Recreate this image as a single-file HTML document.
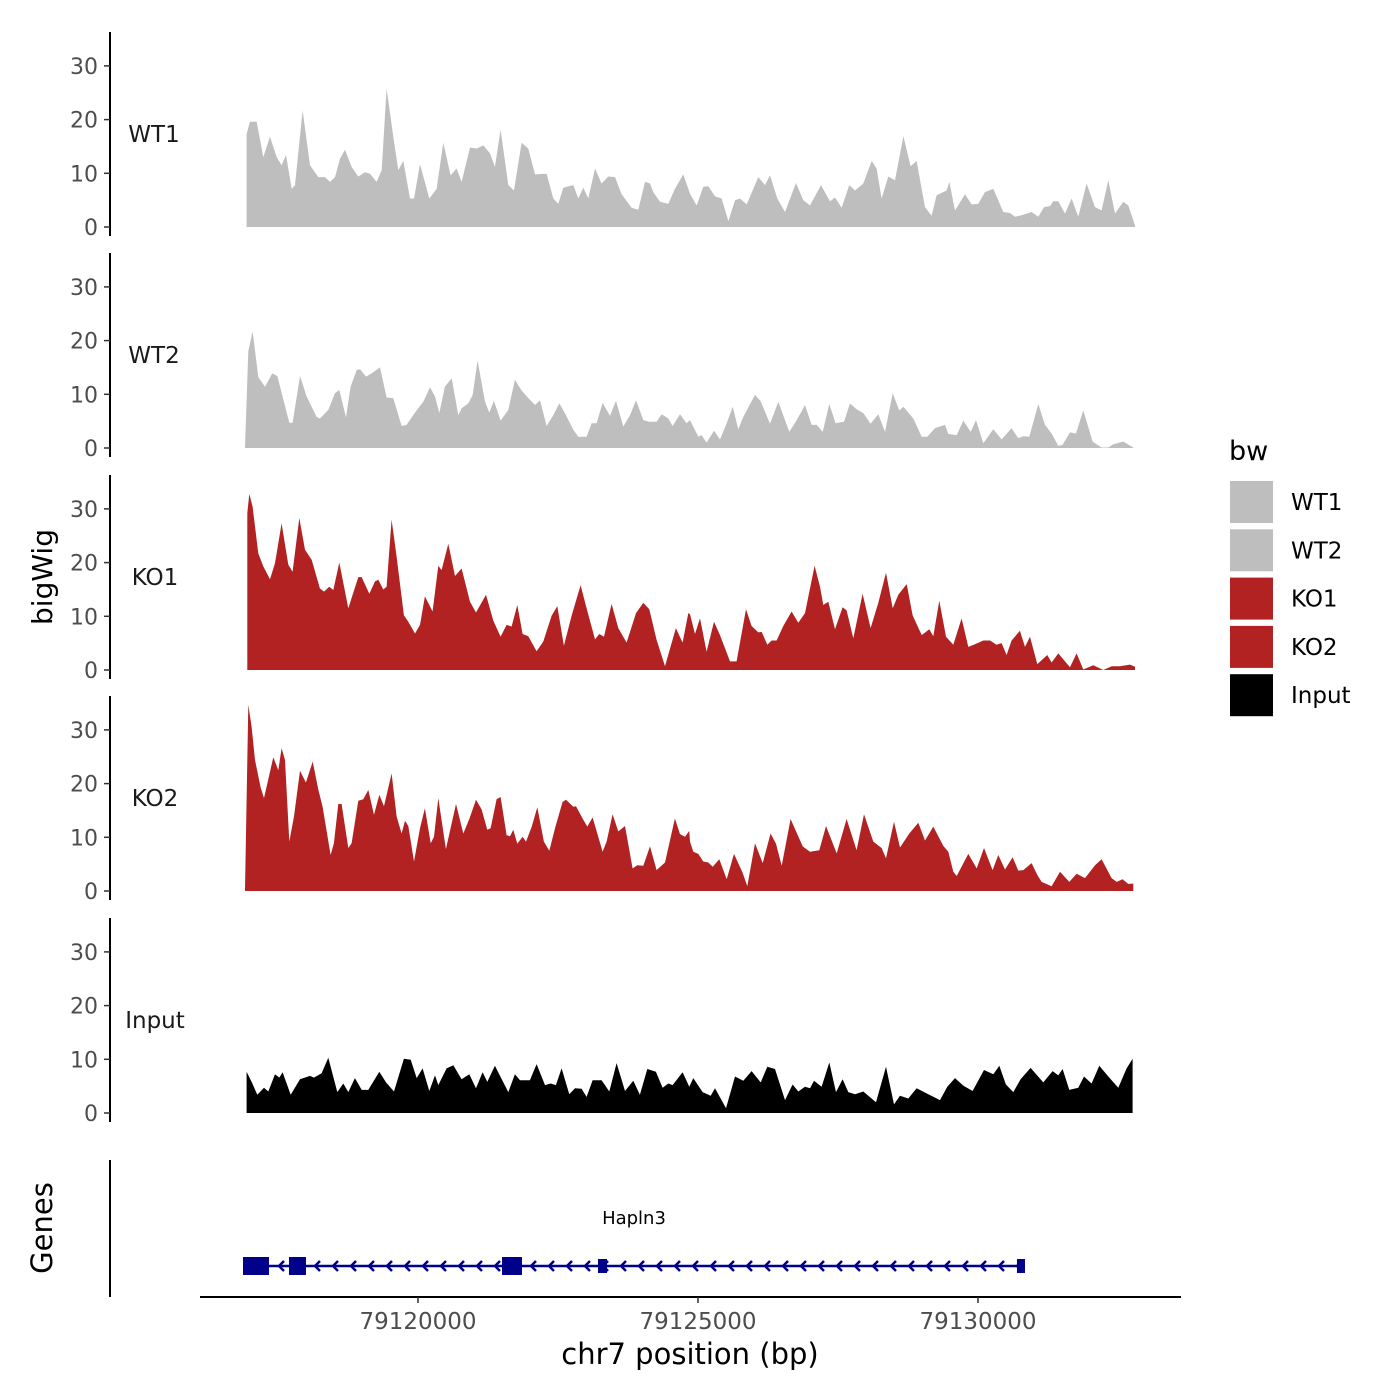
<!DOCTYPE html>
<html><head><meta charset="utf-8"><style>
html,body{margin:0;padding:0;background:#fff;}
svg{display:block;font-family:"DejaVu Sans","Liberation Sans",sans-serif;}
</style></head><body>
<svg id="chart" width="1400" height="1400" viewBox="0 0 1400 1400"></svg>
<script>
const regionStart = 79116821;
const trackNames = ["WT1","WT2","KO1","KO2","Input"];
const trackColors = ["#bebebe","#bebebe","#b22222","#b22222","#000000"];
const yTicks = [0,10,20,30];
const xTicks = [79120000,79125000,79130000];

const wt1Pos = [119,179,298,417,536,655,744,821,923,982,1119,1250,1399,1518,1607,1696,1786,1875,1994,2113,2232,2321,2440,2530,2619,2738,2827,2916,3036,3107,3214,3381,3512,3631,3762,3869,3958,4107,4226,4345,4464,4553,4654,4791,4893,5029,5148,5268,5476,5595,5684,5773,5952,6041,6131,6220,6339,6458,6577,6696,6815,6994,7113,7232,7321,7381,7500,7648,7767,7917,8036,8155,8274,8363,8482,8601,8721,8840,8929,9048,9256,9375,9464,9595,9732,9929,10060,10179,10375,10536,10625,10744,10881,10982,11131,11280,11369,11458,11577,11697,11846,11976,12083,12232,12351,12440,12619,12667,12768,12946,13065,13184,13303,13452,13631,13750,13839,13958,14137,14256,14357,14464,14524,14613,14732,14851,14970,15119,15268,15387,15506,15625,15774,15863,15982];
const wt1Val = [17.3,19.6,19.6,13,16.8,13,11.5,13.4,7.1,7.8,21.7,11.5,9.3,9.3,8.4,9.3,12.7,14.4,11.2,9.4,10.2,9.9,8.4,10.6,25.8,16.8,10.6,12.3,5.3,5.3,11.7,5.3,7.1,15.7,9.6,10.9,8.4,14.8,14.6,15.2,13.7,11.2,18.1,7.8,6.8,15.7,14.6,9.8,9.9,5.3,4.3,7.3,7.8,5.3,7.3,5.3,10.9,8.1,9.4,9.3,6.1,3.6,3.2,8.4,8.1,6.5,4.7,4.3,7.1,9.8,6.2,4.0,7.5,7.6,5.7,5.3,1.1,5.0,5.3,4.2,9.3,7.8,9.6,5.3,2.8,8.2,5.0,4.0,7.8,4.8,5.5,3.6,7.8,6.8,8.1,12.3,10.9,5.3,9.4,8.7,16.9,11.3,12.3,3.7,2.1,5.9,6.8,8.4,3.1,6.1,4.2,4.3,6.5,7.1,2.8,2.6,1.9,2.2,2.8,1.9,3.7,3.9,4.8,4.8,2.5,5.3,1.9,8.1,3.7,3.1,8.7,2.5,4.7,4.0,0.3];

const wt2Pos = [89,149,226,327,446,577,667,881,940,1071,1190,1369,1428,1577,1696,1774,1893,1976,2083,2143,2250,2351,2500,2619,2738,2887,2976,3125,3274,3393,3482,3559,3660,3780,3899,3958,4077,4155,4244,4375,4452,4535,4654,4791,4910,5029,5148,5268,5357,5476,5595,5702,5803,5952,6041,6190,6279,6369,6476,6607,6714,6845,6964,7071,7202,7309,7440,7529,7648,7726,7857,7976,8036,8185,8244,8333,8464,8572,8691,8798,8899,8988,9197,9298,9464,9613,9810,9941,10089,10208,10298,10405,10524,10637,10786,10893,11012,11131,11262,11399,11518,11655,11774,11846,12024,12173,12274,12411,12589,12649,12798,12917,13048,13143,13274,13452,13601,13779,13899,13988,14095,14256,14375,14494,14613,14690,14821,14929,15059,15226,15387,15506,15595,15774,15952];
const wt2Val = [0.2,18,21.7,13.2,11.4,13.9,13.4,4.7,4.7,13.4,9.6,5.8,5.5,7.1,10.2,10.8,5.7,11.4,14.5,14.7,13.3,13.9,15,9.4,9.3,4.1,4.3,6.6,8.6,11.3,9.6,6.5,11.4,13,6.1,7.4,8.3,9.9,16.3,8.6,6.6,8.8,5.1,7.1,12.7,10.7,9.3,8.0,8.9,4.1,6.1,8.3,6.5,3.4,2.1,2.1,4.6,4.6,8.4,6.0,8.8,4.0,6.1,8.9,5.2,4.9,4.9,6.3,5.5,4.1,6.3,4.6,5.2,2.1,2.4,1.0,3.2,1.6,4.6,7.7,3.5,5.8,9.9,8.7,4.5,8.6,3.0,5.2,8.0,4.3,4.3,3.0,8.2,4.6,4.9,8.3,7.2,6.5,4.5,6.3,3.0,10.2,7.0,7.7,5.5,2.1,2.1,3.7,4.3,2.6,2.4,5.1,3.0,5.2,0.9,3.5,1.6,3.7,1.8,2.2,2.1,8.2,4.3,2.7,0.4,0.6,2.9,2.7,7.0,1.2,0.1,0.1,0.7,1.2,0.1];

const ko1Pos = [131,167,226,327,417,536,625,744,863,940,1059,1161,1280,1428,1500,1595,1667,1774,1934,2113,2173,2309,2411,2470,2559,2619,2708,2797,2928,3006,3125,3214,3303,3440,3541,3601,3720,3839,3958,4107,4214,4393,4524,4654,4762,4851,4952,5047,5148,5297,5416,5565,5666,5785,5922,6083,6190,6339,6416,6500,6636,6756,6904,7071,7202,7309,7440,7589,7785,7904,8006,8036,8125,8214,8333,8464,8572,8750,8869,9036,9137,9256,9316,9417,9494,9583,9702,9851,9970,10089,10262,10357,10417,10506,10625,10762,10833,10952,11119,11262,11399,11536,11655,11756,11905,12012,12173,12310,12381,12488,12607,12738,12887,13006,13125,13274,13393,13512,13601,13690,13779,13928,14018,14107,14238,14417,14494,14613,14821,14940,15059,15238,15417,15566,15714,15893,15982];
const ko1Val = [29.2,32.8,30.4,21.7,19.3,16.9,19.9,27.3,19.6,18.3,28.3,22.4,20.5,15.2,14.6,15.5,14.9,20.0,11.5,17.3,17.3,14.2,16.5,16.8,15.0,15.5,28.0,21.1,10.2,9.0,6.8,8.4,13.7,10.9,19.4,18.6,23.5,17.5,18.9,12.7,10.7,14.0,9.2,6.2,8.4,8.1,12.1,6.7,6.3,3.5,5.3,10.1,11.9,4.5,10.1,15.8,11.5,5.7,6.7,6.2,12.3,7.8,5.1,10.6,12.5,11.3,5.6,0.7,7.8,5.1,10.6,10.4,6.7,9.6,3.4,9.0,6.5,1.6,1.6,11.3,8.2,7.0,7.1,4.7,5.5,5.5,8.2,10.9,8.8,10.6,19.4,15.5,12.1,12.7,7.6,11.7,11.1,5.9,14.2,7.8,12.5,18.1,11.5,14.0,16.0,10.2,6.5,7.6,6.3,12.9,6.2,4.7,9.6,4.3,4.8,5.5,5.5,4.7,5.0,2.8,5.5,7.3,4.3,6.2,1.1,2.8,1.4,3.1,0.5,3.1,0.1,0.9,0,0.7,0.7,1.0,0.6];

const ko2Pos = [89,149,208,268,369,429,595,684,744,804,881,964,1071,1178,1298,1399,1476,1619,1678,1756,1815,1934,1994,2113,2202,2292,2393,2488,2571,2708,2797,2887,2946,3006,3107,3214,3303,3405,3464,3541,3678,3857,3988,4095,4214,4315,4416,4476,4583,4654,4762,4821,4881,4952,5047,5107,5208,5309,5428,5523,5625,5761,5821,5952,6000,6119,6202,6297,6476,6547,6654,6756,6875,7011,7095,7202,7321,7440,7589,7767,7857,7946,8023,8036,8095,8185,8274,8363,8441,8560,8691,8822,8976,9060,9197,9334,9476,9571,9673,9833,10048,10179,10345,10464,10655,10833,11012,11143,11310,11458,11536,11679,11786,11953,12113,12232,12381,12560,12649,12738,12798,13006,13155,13286,13440,13541,13661,13797,13899,13988,14137,14238,14315,14494,14643,14809,14940,15089,15268,15387,15565,15655,15762,15863,15952];
const ko2Val = [0.2,34.7,30.6,24.4,19.3,17.3,24.9,22.5,26.6,24.4,9.2,13.9,22.4,20.2,24.1,18.9,15.7,6.7,8.9,16.2,16.2,8.0,8.9,16.8,17.1,18.8,14.2,17.9,15.8,21.9,13.9,10.7,13.1,12.1,5.5,11.7,15.4,8.9,10.1,17.3,7.8,16.2,10.7,13.4,17.0,15.2,11.4,11.7,17.1,17.5,10.4,10.2,11.4,8.8,10.1,9.2,11.9,15.6,9.2,7.5,11.7,16.6,17.0,15.7,15.8,13.5,12.0,13.7,7.3,9.2,14.3,11.1,12.1,4.2,4.8,4.7,8.3,3.9,5.3,13.5,10.6,10.1,11.2,9.2,7.3,6.9,5.5,5.3,4.5,5.9,2.2,6.9,3.4,0.9,8.9,5.2,10.7,8.8,4.7,13.4,8.3,7.3,7.6,12.1,7.0,13.4,7.6,14.3,9.2,8.0,6.1,12.9,8.1,10.7,12.7,9.4,12.0,8.4,7.3,3.6,2.8,6.9,4.2,8.0,3.9,6.7,4.0,6.3,3.8,3.9,5.2,3.0,1.7,0.9,3.6,1.7,3.2,2.4,4.8,5.9,2.4,1.7,2.2,1.3,1.4];

const inputPos = [119,208,310,429,506,625,702,762,905,1071,1250,1321,1458,1577,1738,1845,1934,2053,2173,2292,2488,2607,2750,2928,3048,3155,3262,3381,3482,3541,3690,3809,3958,4095,4214,4333,4416,4553,4791,4910,5000,5178,5297,5446,5547,5642,5744,5881,5982,6101,6190,6297,6458,6595,6726,6875,7023,7142,7273,7428,7547,7648,7726,7904,8023,8095,8262,8405,8482,8679,8839,8988,9137,9298,9417,9554,9732,9869,9970,10089,10179,10250,10387,10524,10643,10762,10863,10982,11131,11357,11536,11679,11786,11935,12083,12292,12500,12631,12768,12917,13083,13286,13452,13559,13678,13809,13940,14119,14345,14512,14613,14690,14809,14970,15071,15208,15345,15506,15685,15833,15940];
const inputVal = [7.7,5.8,3.4,4.7,4.0,7.2,6.6,7.6,3.4,6.3,6.9,6.6,7.4,10.3,3.9,5.5,3.9,6.5,4.3,4.3,7.7,5.7,4.0,10.1,9.9,6.5,8.3,4.1,7.0,5.2,8.3,8.9,6.3,7.2,4.6,7.6,5.8,8.8,3.9,7.2,6.1,6.1,9.1,5.2,5.5,5.2,8.3,3.5,4.6,4.5,3.0,6.1,6.1,4.0,9.3,4.1,6.0,3.4,8.2,7.7,4.7,5.5,5.2,7.6,4.9,6.5,3.9,3.2,4.6,0.9,6.8,6.0,7.8,5.7,8.6,8.2,2.4,5.3,4.0,4.9,4.6,6.0,4.9,9.4,3.9,6.3,3.9,3.5,4.0,2.0,8.6,1.6,3.2,2.7,4.6,3.5,2.4,4.9,6.5,5.1,4.1,8.0,7.2,8.8,5.3,3.9,6.3,8.4,5.7,7.8,7.0,8.2,4.3,4.7,6.8,5.5,8.8,6.8,4.7,8.3,10.1];

const exonStarts = [79116875,79117696,79121500,79123214,79130696];
const exonEnds = [79117339,79118000,79121857,79123375,79130839];
const geneStart = 79116875;
const geneEnd = 79130839;
const geneName = "Hapln3";

const svg = document.getElementById('chart');
const NS = 'http://www.w3.org/2000/svg';
function mk(tag, attrs, parent){ const e=document.createElementNS(NS,tag); for(const k in attrs) e.setAttribute(k,attrs[k]); (parent||svg).appendChild(e); return e; }

const xScale = bp => 418 + (bp - 79120000) * 0.056;
const zeros = [227,448,670,891,1113];
const pxPerUnit = 5.37;
const trackPos = [wt1Pos,wt2Pos,ko1Pos,ko2Pos,inputPos];
const trackVal = [wt1Val,wt2Val,ko1Val,ko2Val,inputVal];
const labelX = [154,154,155,155,155];

trackNames.forEach((name,i)=>{
  const z = zeros[i];
  const yScale = v => z - v*pxPerUnit;
  const g = mk('g',{});
  
  
  const axis = mk('line',{x1:110,x2:110,y1:z-195,y2:z+9,stroke:'#000','stroke-width':2},g);
  
  
  yTicks.forEach(t=>{
    const y = yScale(t);
    const tk = mk('line',{x1:104,x2:110,y1:y,y2:y,stroke:'#333','stroke-width':1.5},g);
    
    
    const tl = mk('text',{x:98,y:y+8,'text-anchor':'end','font-size':22,fill:'#4d4d4d'},g);
    
    
    tl.textContent = t;
  });
  const P = trackPos[i], V = trackVal[i];
  let d = 'M' + xScale(regionStart+P[0]).toFixed(1) + ',' + z;
  for(let k=0;k<P.length;k++) d += 'L' + xScale(regionStart+P[k]).toFixed(1) + ',' + yScale(V[k]).toFixed(1);
  d += 'L' + xScale(regionStart+P[P.length-1]).toFixed(1) + ',' + z + 'Z';
  const area = mk('path',{d:d,fill:trackColors[i]},g);
  
  
  const lab = mk('text',{x:labelX[i],y:z-85,'text-anchor':'middle','font-size':23,fill:'#1a1a1a'},g);
  
  
  lab.textContent = name;
});

const yt = mk('text',{x:0,y:0,transform:'translate(52,577) rotate(-90)','text-anchor':'middle','font-size':28,fill:'#000'});


yt.textContent = 'bigWig';

const gAxis = mk('line',{x1:110,x2:110,y1:1160,y2:1297,stroke:'#000','stroke-width':2});


const gt = mk('text',{x:0,y:0,transform:'translate(52,1228) rotate(-90)','text-anchor':'middle','font-size':29,fill:'#000'});


gt.textContent = 'Genes';
const gLine = mk('line',{x1:xScale(geneStart),x2:xScale(geneEnd),y1:1266,y2:1266,stroke:'#00008b','stroke-width':2.5});


for(let ax = xScale(geneStart)+37; ax < xScale(geneEnd)-6; ax += 18){
  const ar = mk('path',{d:`M${ax+4},1261L${ax-1},1266L${ax+4},1271`,fill:'none',stroke:'#00008b','stroke-width':2.5});
  
  
}
exonStarts.forEach((s,i)=>{
  const small = (exonEnds[i]-s) < 200;
  const h = small ? 14 : 18;
  const ex = mk('rect',{x:xScale(s),y:1266-h/2,width:xScale(exonEnds[i])-xScale(s),height:h,fill:'#00008b'});
  
  
});
const gn = mk('text',{x:634,y:1224,'text-anchor':'middle','font-size':18,fill:'#000'});


gn.textContent = geneName;

const xa = mk('line',{x1:200,x2:1181,y1:1297,y2:1297,stroke:'#000','stroke-width':2});


xTicks.forEach(t=>{
  const x = xScale(t);
  const tk = mk('line',{x1:x,x2:x,y1:1297,y2:1303,stroke:'#333','stroke-width':1.5});
  
  
  const tl = mk('text',{x:x,y:1329,'text-anchor':'middle','font-size':23,fill:'#4d4d4d'});
  
  
  tl.textContent = t;
});
const xt = mk('text',{x:690,y:1364,'text-anchor':'middle','font-size':29,fill:'#000'});


xt.textContent = 'chr7 position (bp)';

const lg = mk('g',{});


const lt = mk('text',{x:1229,y:460,'font-size':27,fill:'#000'},lg);


lt.textContent = 'bw';
trackNames.forEach((name,i)=>{
  const y = 481 + i*48.3;
  const r = mk('rect',{x:1230,y:y,width:43,height:42,fill:trackColors[i]},lg);
  
  
  const t = mk('text',{x:1291,y:y+29,'font-size':23,fill:'#000'},lg);
  
  
  t.textContent = name;
});
</script>
</body></html>
